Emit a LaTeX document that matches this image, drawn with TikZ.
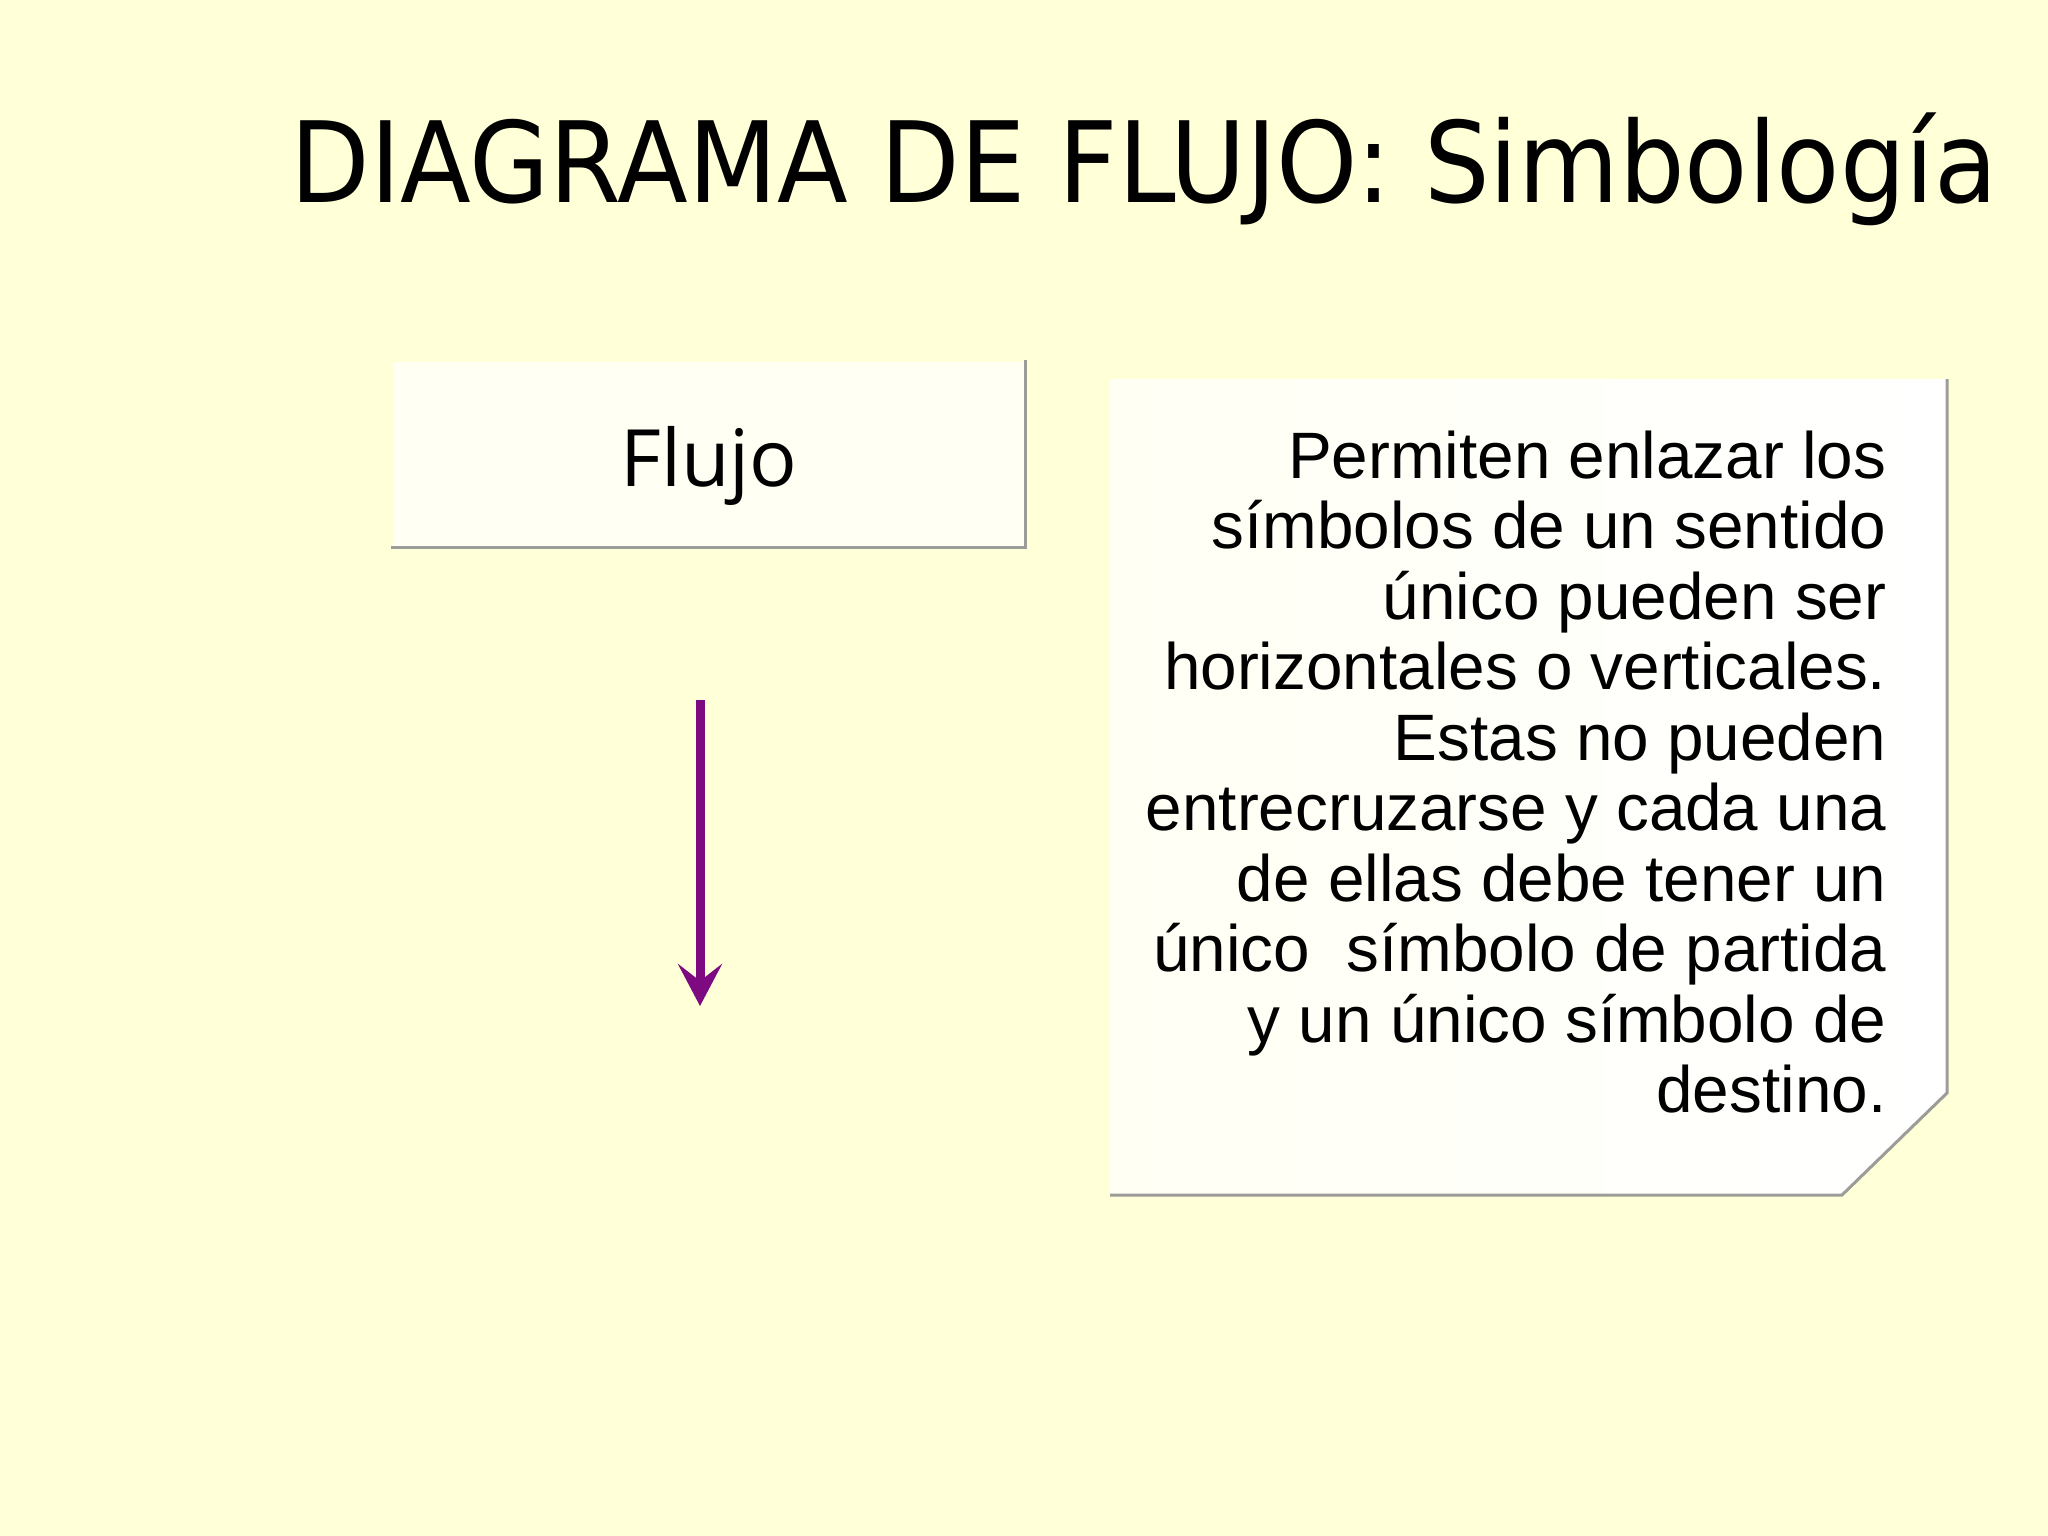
\documentclass[tikz,border=0pt]{standalone}
\usepackage{fontspec}
\usepackage{graphicx}
\usetikzlibrary{arrows.meta}
\newfontfamily\titlefont{DejaVu Sans}
\newfontfamily\flujofont{Open Sans}
\newfontfamily\notefont{Liberation Sans}
\definecolor{bgyellow}{HTML}{FFFFD8}
\definecolor{boxwhite}{HTML}{FFFFF4}
\definecolor{shadowgray}{HTML}{9C9C98}
\definecolor{flowpurple}{HTML}{7D0A80}
\tikzset{
  titletext/.style={anchor=base west, inner sep=0pt, text=black},
  flujobox/.style={rectangle, fill=boxwhite, draw=none, inner sep=0pt, minimum width=6.32cm, minimum height=1.85cm},
  labeltext/.style={anchor=base, inner sep=0pt, font=\flujofont\fontsize{22.5}{28}\selectfont},
  shadowline/.style={draw=shadowgray, line width=0.03cm, line cap=rect},
  notetext/.style={anchor=north east, inner sep=0pt, align=right, font=\notefont\fontsize{18.66}{20.05}\selectfont},
  flowarrow/.style={draw=flowpurple, line width=0.09cm, -{Stealth[length=0.42cm, width=0.44cm, inset=0.17cm]}}
}
\begin{document}
\begin{tikzpicture}[x=0.01cm,y=-0.01cm]
\fill[bgyellow] (0,0) rectangle (2048,1536);
\useasboundingbox (0,0) rectangle (2048,1536);
% title
\node[titletext] (title) at (290,202) {\resizebox{17.06cm}{\height}{\titlefont\fontsize{31.9}{38}\selectfont DIAGRAMA DE FLUJO: Simbología}};
% Flujo box
\node[flujobox] (flujo) at (709,454.5) {};
\draw[shadowline] (flujo.north east) -- (flujo.south east) -- (flujo.south west);
\node[labeltext] (flujolabel) at (709,486) {Flujo};
% arrow
\coordinate (arrowstart) at (700,700);
\coordinate (arrowend) at (700,1006);
\draw[flowarrow] (arrowstart) -- (arrowend);
% note box
\coordinate (nA) at (1110,379);
\coordinate (nB) at (1947,379);
\coordinate (nC) at (1947,1093);
\coordinate (nD) at (1842,1195);
\coordinate (nE) at (1110,1195);
\fill[left color=boxwhite, right color=white] (nA) -- (nB) -- (nC) -- (nD) -- (nE) -- cycle;
\draw[shadowline, line cap=butt] (nB) -- (nC) -- (nD) -- (nE);
\node[notetext] (note) at (1887,430) {Permiten enlazar los\\
símbolos de un sentido\\
único pueden ser\\
horizontales o verticales.\\
Estas no pueden\\
entrecruzarse y cada una\\
de ellas debe tener un\\
único\ \ símbolo de partida\\
y un único símbolo de\\
destino.};
\end{tikzpicture}
\end{document}
